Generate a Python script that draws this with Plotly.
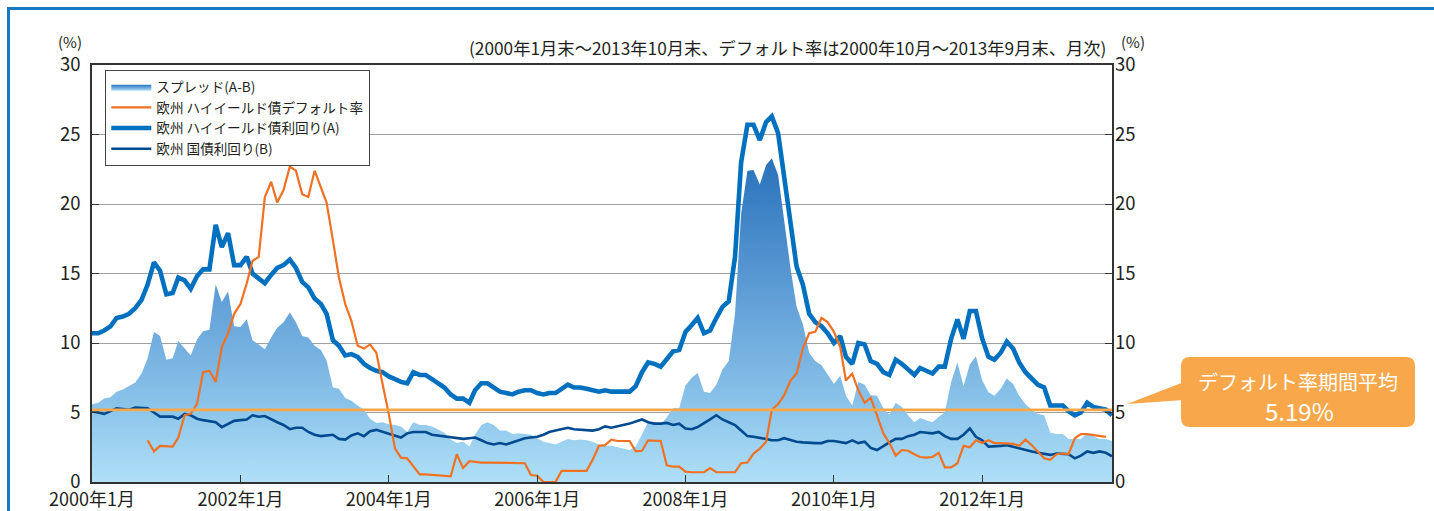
import plotly.graph_objects as go
import pandas as pd

# ---------------- data ----------------
# 欧州 ハイイールド債利回り(A), monthly end 2000-01 .. 2013-10
yield_hy = [
    10.7, 10.7, 10.9, 11.2, 11.8, 11.9, 12.1, 12.5, 13.1, 14.2,
    15.8, 15.2, 13.5, 13.6, 14.7, 14.5, 13.9, 14.8, 15.3, 15.3,
    18.5, 16.9, 17.9, 15.6, 15.6, 16.2, 15.0, 14.6, 14.3, 14.9,
    15.4, 15.6, 16.0, 15.4, 14.4, 14.0, 13.2, 12.8, 12.1, 10.2,
    9.8, 9.1, 9.2, 9.0, 8.5, 8.2, 8.0, 7.9, 7.6, 7.4,
    7.2, 7.1, 7.9, 7.7, 7.7, 7.4, 7.1, 6.8, 6.3, 6.0,
    6.0, 5.7, 6.6, 7.1, 7.1, 6.8, 6.5, 6.4, 6.3, 6.5,
    6.6, 6.6, 6.4, 6.3, 6.4, 6.4, 6.7, 7.0, 6.8, 6.8,
    6.7, 6.6, 6.5, 6.6, 6.5, 6.5, 6.5, 6.5, 6.9, 7.9,
    8.6, 8.5, 8.3, 8.9, 9.4, 9.5, 10.8, 11.3, 11.8, 10.7,
    10.9, 11.8, 12.6, 13.0, 16.2, 23.0, 25.7, 25.7, 24.6, 25.9,
    26.3, 25.1, 22.0, 18.4, 15.5, 14.2, 12.1, 11.5, 11.2, 10.7,
    10.0, 10.5, 9.0, 8.5, 10.0, 9.9, 8.7, 8.5, 7.9, 7.7,
    8.8, 8.5, 8.1, 7.7, 8.2, 8.0, 7.8, 8.3, 8.3, 10.3,
    11.7, 10.3, 12.3, 12.3, 10.3, 9.0, 8.8, 9.3, 10.1, 9.6,
    8.6, 7.9, 7.4, 7.0, 6.8, 5.5, 5.5, 5.5, 5.1, 4.8,
    5.0, 5.7, 5.4, 5.3, 5.2, 4.8,
]

# 欧州 国債利回り(B), monthly end 2000-01 .. 2013-10
yield_gov = [
    5.1, 5.0, 4.9, 5.1, 5.3, 5.25, 5.2, 5.35, 5.3, 5.3,
    5.0, 4.7, 4.7, 4.7, 4.55, 4.9, 4.8, 4.55, 4.45, 4.35,
    4.3, 3.95, 4.2, 4.4, 4.45, 4.5, 4.8, 4.7, 4.75, 4.5,
    4.3, 4.1, 3.8, 3.9, 3.9, 3.6, 3.4, 3.3, 3.35, 3.4,
    3.1, 3.05, 3.35, 3.5, 3.3, 3.65, 3.75, 3.6, 3.45, 3.3,
    3.2, 3.5, 3.6, 3.6, 3.6, 3.4, 3.35, 3.25, 3.25, 3.2,
    3.1, 3.15, 3.2, 3.0, 2.8, 2.7, 2.8, 2.7, 2.85, 3.0,
    3.15, 3.2, 3.25, 3.4, 3.6, 3.7, 3.8, 3.9, 3.8, 3.75,
    3.7, 3.7, 3.8, 4.0, 3.9, 4.0, 4.1, 4.2, 4.35, 4.5,
    4.3, 4.2, 4.2, 4.25, 4.1, 4.2, 3.85, 3.8, 3.95, 4.2,
    4.5, 4.8, 4.5, 4.3, 4.1, 3.7, 3.3, 3.25, 3.2, 3.1,
    3.0, 3.0, 3.15, 3.0, 2.9, 2.85, 2.8, 2.8, 2.8, 2.95,
    2.95, 2.85, 2.8, 3.0, 2.8, 2.9, 2.45, 2.3, 2.6, 2.85,
    3.1, 3.1, 3.3, 3.4, 3.6, 3.55, 3.5, 3.6, 3.3, 3.1,
    3.1, 3.4, 3.85, 3.25, 3.0, 2.55, 2.6, 2.6, 2.65, 2.55,
    2.4, 2.3, 2.2, 2.1, 2.0, 1.95, 2.05, 2.05, 2.0, 1.7,
    1.9, 2.2, 2.1, 2.2, 2.1, 1.85,
]

# 欧州 ハイイールド債デフォルト率, monthly 2000-10 .. 2013-09
default_rate = [
    3.0,
    2.2, 2.6, 2.6, 2.55, 3.2, 4.8, 4.9, 5.6, 7.9, 8.0,
    7.2, 9.7, 10.7, 12.1, 12.8, 14.3, 15.9, 16.2, 20.5, 21.6,
    20.1, 21.0, 22.7, 22.4, 20.7, 20.5, 22.4, 21.2, 20.1, 17.4,
    14.7, 12.8, 11.6, 9.8, 9.6, 9.9, 9.3, 7.1, 4.9, 2.4,
    1.75, 1.7, 1.1, 0.55, 0.55, 0.5, 0.5, 0.45, 0.4, 2.0,
    1.0, 1.5, 1.45, 1.4, 1.4, 1.4, 1.35, 1.35, 1.35, 1.35,
    1.35, 0.5, 0.45, 0.0, 0.0, 0.0, 0.8, 0.8, 0.8, 0.8,
    0.8, 1.6, 2.6, 2.65, 3.05, 2.95, 2.95, 2.95, 2.2, 2.25,
    3.0, 2.95, 2.95, 1.2, 1.1, 1.1, 0.75, 0.7, 0.7, 0.7,
    1.0, 0.7, 0.7, 0.7, 0.7, 1.35, 1.4, 2.05, 2.4, 2.9,
    5.2, 5.6, 6.25, 7.3, 7.8, 9.6, 10.7, 10.8, 11.8, 11.5,
    10.8, 9.7, 7.3, 7.8, 6.6, 5.7, 6.05, 4.8, 3.5, 2.8,
    1.9, 2.3, 2.25, 2.0, 1.8, 1.75, 1.8, 2.1, 1.05, 1.05,
    1.35, 2.6, 2.5, 3.0, 2.8, 3.0, 2.8, 2.8, 2.8, 2.75,
    2.6, 3.05, 2.65, 2.15, 1.7, 1.6, 2.0, 2.05, 2.0, 3.15,
    3.45, 3.45, 3.4, 3.3, 3.25,
]

avg_default = 5.19  # デフォルト率期間平均

tick_dates = ["2000-01-01", "2002-01-01", "2004-01-01", "2006-01-01",
              "2008-01-01", "2010-01-01", "2012-01-01"]
tick_labels = ["2000年1月", "2002年1月", "2004年1月", "2006年1月",
               "2008年1月", "2010年1月", "2012年1月"]
y_ticks = [0, 5, 10, 15, 20, 25, 30]

series_names = ["スプレッド(A-B)", "欧州 ハイイールド債デフォルト率",
                "欧州 ハイイールド債利回り(A)", "欧州 国債利回り(B)"]

dates = pd.date_range("2000-01-01", periods=len(yield_hy), freq="MS")
default_dates = pd.date_range("2000-10-01", periods=len(default_rate), freq="MS")
spread = [a - b for a, b in zip(yield_hy, yield_gov)]

# ---------------- styling ----------------
FONT = "Noto Sans CJK JP"
TXT = "#231f20"
W, H = 1434, 511
L, R, T, B = 92, 1112, 65, 482


def px(x):
    return (x - L) / (R - L)


def py(y):
    return (B - y) / (B - T)


def rounded_rect(x0, y0, x1, y1, r):
    pts = [
        f"M {px(x0 + r)} {py(y0)}",
        f"L {px(x1 - r)} {py(y0)}",
        f"Q {px(x1)} {py(y0)} {px(x1)} {py(y0 + r)}",
        f"L {px(x1)} {py(y1 - r)}",
        f"Q {px(x1)} {py(y1)} {px(x1 - r)} {py(y1)}",
        f"L {px(x0 + r)} {py(y1)}",
        f"Q {px(x0)} {py(y1)} {px(x0)} {py(y1 - r)}",
        f"L {px(x0)} {py(y0 + r)}",
        f"Q {px(x0)} {py(y0)} {px(x0 + r)} {py(y0)}",
        "Z",
    ]
    return " ".join(pts)


def polygon(points):
    s = " ".join(("M" if i == 0 else "L") + f" {px(x)} {py(y)}"
                 for i, (x, y) in enumerate(points))
    return s + " Z"


fig = go.Figure()

fig.add_trace(go.Scatter(
    x=dates, y=spread, name=series_names[0], mode="lines",
    line=dict(width=0, color="#5a9bd5"), fill="tozeroy",
    fillgradient=dict(type="vertical", start=0, stop=23,
                      colorscale=[[0, "#b0e0f8"], [0.2, "#90c8ec"],
                                  [0.5, "#6aa7db"], [1, "#2b73bc"]]),
    legendrank=1, hoverinfo="skip",
))
fig.add_trace(go.Scatter(
    x=dates, y=yield_gov, name=series_names[3], mode="lines",
    line=dict(width=2.6, color="#004a8f"), legendrank=4,
))
fig.add_trace(go.Scatter(
    x=dates, y=yield_hy, name=series_names[2], mode="lines",
    line=dict(width=4.6, color="#0070bf"), legendrank=3,
))
fig.add_trace(go.Scatter(
    x=default_dates, y=default_rate, name=series_names[1], mode="lines",
    line=dict(width=2.2, color="#f07122"), legendrank=2, yaxis="y2",
))

shapes = [
    # outer blue frame
    dict(type="rect", xref="paper", yref="paper",
         x0=px(8.5), x1=px(1460), y0=py(540), y1=py(8.5),
         line=dict(color="#1a78c2", width=3), fillcolor="rgba(0,0,0,0)",
         layer="below"),
    # average default-rate line
    dict(type="line", xref="x", yref="y", x0=dates[0], x1=dates[-1],
         y0=avg_default, y1=avg_default,
         line=dict(color="#f8a84a", width=2.6), layer="above"),
    # callout box + pointer
    dict(type="path", xref="paper", yref="paper",
         path=rounded_rect(1181, 357, 1415, 427, 9),
         fillcolor="#f8a84a", line=dict(width=0)),
    dict(type="path", xref="paper", yref="paper",
         path=polygon([(1127, 404), (1184, 382), (1184, 400)]),
         fillcolor="#f8a84a", line=dict(width=0)),
]

annotations = [
    dict(xref="paper", yref="paper", x=px(1298), y=py(381),
         text="デフォルト率期間平均",
         showarrow=False, font=dict(family=FONT, size=20, color="white"),
         xanchor="center", yanchor="middle"),
    dict(xref="paper", yref="paper", x=px(1299), y=py(410),
         text=f"{avg_default:.2f}%",
         showarrow=False, font=dict(family=FONT, size=24, color="white"),
         xanchor="center", yanchor="middle"),
    dict(xref="paper", yref="paper", x=px(1108), y=py(47),
         text="(2000年1月末～2013年10月末、デフォルト率は2000年10月～2013年9月末、月次)",
         showarrow=False, font=dict(family=FONT, size=17.3, color=TXT),
         xanchor="right", yanchor="middle"),
    dict(xref="paper", yref="paper", x=px(70), y=py(42), text="(%)",
         showarrow=False, font=dict(family=FONT, size=15, color=TXT),
         xanchor="center", yanchor="middle"),
    dict(xref="paper", yref="paper", x=px(1133), y=py(42), text="(%)",
         showarrow=False, font=dict(family=FONT, size=15, color=TXT),
         xanchor="center", yanchor="middle"),
]

fig.update_layout(
    width=W, height=H,
    margin=dict(l=L, r=W - R, t=T, b=H - B, pad=0, autoexpand=False),
    paper_bgcolor="white", plot_bgcolor="white",
    font=dict(family=FONT, color=TXT),
    showlegend=True,
    legend=dict(x=px(105), y=py(70), xanchor="left", yanchor="top",
                bgcolor="white", bordercolor="#444", borderwidth=1.3,
                font=dict(family=FONT, size=13.6, color=TXT),
                tracegroupgap=0, itemwidth=40, traceorder="normal"),
    xaxis=dict(type="date", range=[dates[0], dates[-1]],
               tickvals=tick_dates, ticktext=tick_labels,
               ticks="inside", ticklen=7, tickcolor="#333", tickwidth=1.2,
               showline=True, linecolor="#333", linewidth=1.5, mirror=True,
               showgrid=False, zeroline=False, automargin=False,
               ticklabelstandoff=1,
               tickfont=dict(family=FONT, size=18, color=TXT)),
    yaxis=dict(range=[0, 30], tickvals=y_ticks,
               ticks="inside", ticklen=7, tickcolor="#333", tickwidth=1.2,
               showline=True, linecolor="#333", linewidth=1.5, mirror="ticks",
               showgrid=True, gridcolor="#a0a0a0", gridwidth=1,
               zeroline=False, ticklabelstandoff=6, automargin=False,
               tickfont=dict(family=FONT, size=18.5, color=TXT)),
    yaxis2=dict(range=[0, 30], tickvals=y_ticks, overlaying="y", side="right",
                ticks="", showline=False, showgrid=False, zeroline=False,
                ticklabelstandoff=2, automargin=False,
                tickfont=dict(family=FONT, size=18.5, color=TXT)),
    shapes=shapes, annotations=annotations,
)

fig.write_html("out.html", config={"displayModeBar": False},
               post_script="document.body.style.margin='0';document.body.style.overflow='hidden';")
